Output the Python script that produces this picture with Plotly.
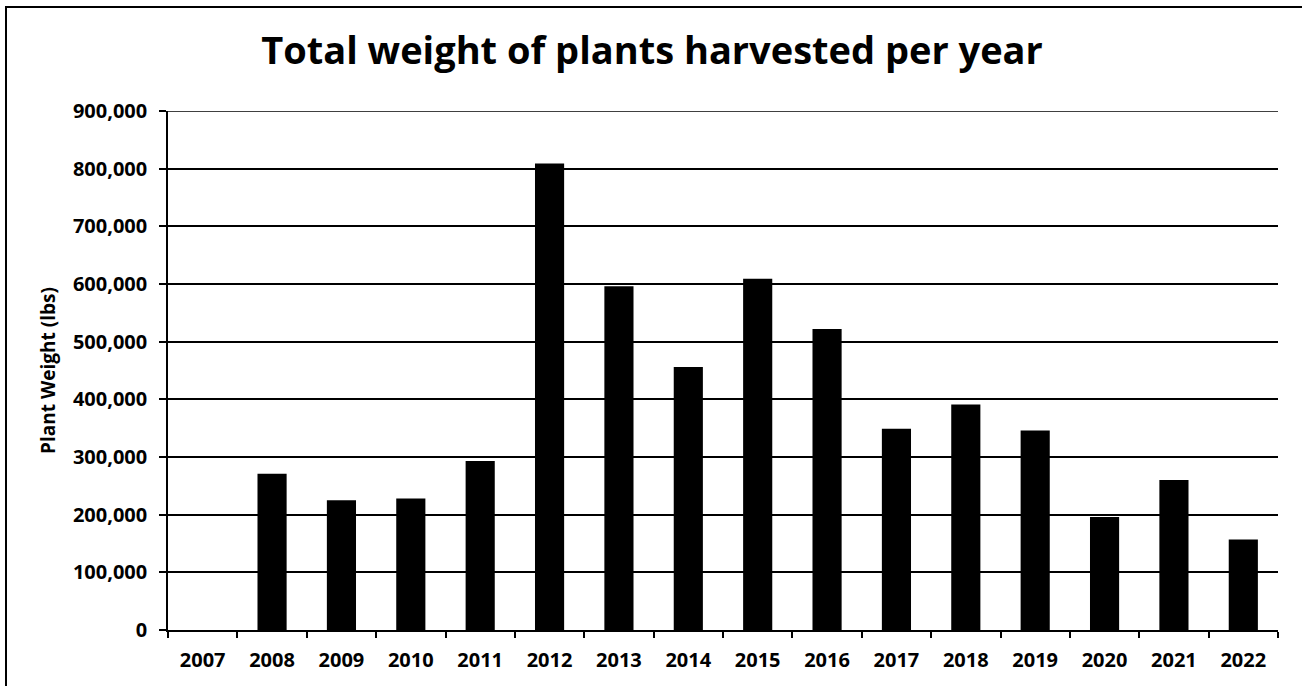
import plotly.graph_objects as go

# Harvest totals by year
years = ["2007", "2008", "2009", "2010", "2011", "2012", "2013", "2014",
         "2015", "2016", "2017", "2018", "2019", "2020", "2021", "2022"]
weight_lbs = [0, 271000, 225000, 228000, 293000, 809000, 596000, 456000,
              609000, 522000, 349000, 391000, 346000, 196000, 260000, 157000]

y_ticks = [0, 100000, 200000, 300000, 400000, 500000, 600000, 700000, 800000, 900000]
y_max = 900000

W, H = 1302, 686
ML, MR, MT, MB = 168, 24, 111, 56
PW, PH = W - ML - MR, H - MT - MB

FONT = "Open Sans"

fig = go.Figure(
    go.Bar(
        x=years,
        y=weight_lbs,
        marker=dict(color="black", line=dict(width=0)),
        hoverinfo="x+y",
    )
)

# gridline at the top of the value range
fig.add_shape(type="line", xref="paper", yref="y",
              x0=0, x1=1, y0=y_max, y1=y_max,
              line=dict(color="black", width=1.6))

# outer chart frame (left and top edges visible)
fx0 = (6 - ML) / PW
fx1 = (W + 4 - ML) / PW
fy1 = (H - MB - 7) / PH
fy0 = (H - MB - H - 4) / PH
fig.add_shape(type="rect", xref="paper", yref="paper",
              x0=fx0, x1=fx1, y0=fy0, y1=fy1,
              line=dict(color="black", width=2), fillcolor="rgba(0,0,0,0)",
              layer="above")

fig.update_layout(
    width=W, height=H,
    margin=dict(l=ML, r=MR, t=MT, b=MB),
    paper_bgcolor="white", plot_bgcolor="white",
    bargap=0.58,
    showlegend=False,
    title=dict(
        text="<b>Total weight of plants harvested per year</b>",
        font=dict(family=FONT, size=38, color="black"),
        x=652 / W, xanchor="center", xref="container",
        y=1 - 51 / H, yanchor="middle", yref="container",
    ),
    font=dict(family=FONT, color="black"),
)

fig.update_xaxes(
    type="category",
    showline=True, linecolor="black", linewidth=1.5,
    ticks="outside", tickson="boundaries", ticklen=6, tickwidth=1.5, tickcolor="black",
    showgrid=False,
    tickfont=dict(family=FONT, size=20, color="black", weight="bold"),
    ticklabelstandoff=11,
)

fig.update_yaxes(
    range=[0, y_max],
    tickvals=y_ticks,
    tickformat=",",
    showline=True, linecolor="black", linewidth=1.5,
    ticks="outside", ticklen=7, tickwidth=1.5, tickcolor="black",
    showgrid=True, gridcolor="black", gridwidth=1.6,
    zeroline=False,
    tickfont=dict(family=FONT, size=20, color="black", weight="bold"),
    ticklabelstandoff=8,
    title=dict(text="<b>Plant Weight (lbs)</b>",
               font=dict(family=FONT, size=19, color="black"),
               standoff=12),
)

fig.write_html("out.html")
